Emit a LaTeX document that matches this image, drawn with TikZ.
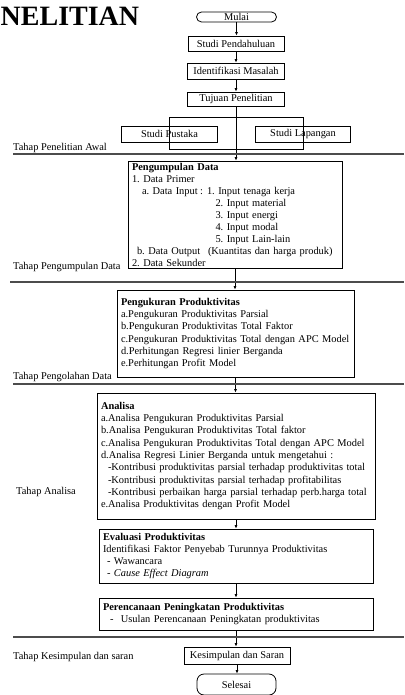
\documentclass[tikz,border=0pt]{standalone}
\usepackage{fontspec}
\setmainfont{Liberation Serif}
\usetikzlibrary{arrows.meta,calc}
\begin{document}
\begin{tikzpicture}[x=1pt,y=-1pt,
  every node/.style={font=\fontsize{10.4}{12.3}\selectfont\frenchspacing},
  box/.style={draw, line width=0.8pt, inner sep=0pt, align=center},
  textbox/.style={draw, line width=0.8pt, inner xsep=4pt, inner ysep=0pt, align=left},
  term/.style={draw, line width=0.8pt, inner sep=0pt},
  arr/.style={-{Latex[length=3.5pt,width=3pt]}, line width=0.7pt},
  sepline/.style={line width=1.1pt, black!70},
  stage/.style={anchor=base west, inner sep=0pt}]
\useasboundingbox (0,0) rectangle (404,695);

% title fragment
\node[anchor=base west, inner sep=0pt, font=\fontsize{28}{28}\selectfont\bfseries] (judul) at (0.5,26) {NELITIAN};

% start / first steps
\node[term, rounded corners=5pt, minimum width=80pt, minimum height=10pt] (mulai) at (236.5,17) {Mulai};
\node[box, minimum width=96pt, minimum height=15pt] (pendahuluan) at (236,43.5) {Studi Pendahuluan};
\node[box, minimum width=97pt, minimum height=16pt] (identifikasi) at (236,71) {Identifikasi Masalah};
\node[box, minimum width=97pt, minimum height=14pt] (tujuan) at (236,99) {Tujuan Penelitian};

\node[box, minimum width=96pt, minimum height=16pt] (pustaka) at (169.5,134) {Studi Pustaka};
\node[box, minimum width=95pt, minimum height=16pt] (lapangan) at (303,134) {Studi Lapangan};
\draw[line width=0.8pt] ($(pustaka.center)+(0,-17)$) rectangle ($(lapangan.center)+(0,15)$);

% data collection
\node[textbox, font=\fontsize{10.4}{12}\selectfont\frenchspacing, text width=206pt, minimum height=107pt] (kumpul) at (235,214.5) {%
\textbf{Pengumpulan Data}\\
1. Data Primer\\
\hspace*{10pt}\makebox[58pt][l]{a. Data Input}\makebox[7pt][l]{:}1. Input tenaga kerja\\
\hspace*{83.5pt}2. Input material\\
\hspace*{83.5pt}3. Input energi\\
\hspace*{83.5pt}4. Input modal\\
\hspace*{83.5pt}5. Input Lain-lain\\
\hspace*{5pt}\makebox[71pt][l]{b. Data Output}(Kuantitas dan harga produk)\\
2. Data Sekunder};

% processing
\node[textbox, text width=229pt, minimum height=87pt] (ukur) at (235.5,333.5) {%
\textbf{Pengukuran Produktivitas}\\
a.Pengukuran Produktivitas Parsial\\
b.Pengukuran Produktivitas Total Faktor\\
\mbox{c.Pengukuran Produktivitas Total dengan APC Model}\\
d.Perhitungan Regresi linier Berganda\\
e.Perhitungan Profit Model};

% analysis
\node[textbox, text width=270pt, minimum height=126pt] (analisa) at (236,456) {%
\textbf{Analisa}\\
a.Analisa Pengukuran Produktivitas Parsial\\
b.Analisa Pengukuran Produktivitas Total faktor\\
\mbox{c.Analisa Pengukuran Produktivitas Total dengan APC Model}\\
d.Analisa Regresi Linier Berganda untuk mengetahui :\\
\hspace*{7pt}\mbox{-Kontribusi produktivitas parsial terhadap produktivitas total}\\
\hspace*{7pt}\mbox{-Kontribusi produktivitas parsial terhadap profitabilitas}\\
\hspace*{7pt}\mbox{-Kontribusi perbaikan harga parsial terhadap perb.harga total}\\
e.Analisa Produktivitas dengan Profit Model};

\node[textbox, text width=266pt, minimum height=54pt] (evaluasi) at (236,556) {%
\textbf{Evaluasi Produktivitas}\\
Identifikasi Faktor Penyebab Turunnya Produktivitas\\
\hspace*{4pt}- Wawancara\\
\hspace*{4pt}- \textit{Cause Effect Diagram}};

\node[textbox, text width=266pt, minimum height=32pt] (rencana) at (236,614) {%
\textbf{Perencanaan Peningkatan Produktivitas}\\
\hspace*{7pt}-\hspace{4pt} Usulan Perencanaan Peningkatan produktivitas};

\node[box, minimum width=106pt, minimum height=17pt] (kesimpulan) at (237,655.5) {Kesimpulan dan Saran};
\node[term, rounded corners=7pt, minimum width=79pt, minimum height=21pt] (selesai) at (236.5,684.5) {Selesai};

% connectors
\draw[arr] (mulai.south) -- (mulai.south |- pendahuluan.north);
\draw[arr] (pendahuluan.south) -- (pendahuluan.south |- identifikasi.north);
\draw[arr] (identifikasi.south) -- (identifikasi.south |- tujuan.north);
\draw[arr] (tujuan.south) -- (tujuan.south |- kumpul.north);
\draw[arr] (kumpul.south) -- (kumpul.south |- ukur.north);
\draw[arr] (ukur.south) -- (ukur.south |- analisa.north);
\draw[arr] (analisa.south) -- (analisa.south |- evaluasi.north);
\draw[arr] (evaluasi.south) -- (evaluasi.south |- rencana.north);
\draw[arr] (rencana.south) -- (rencana.south |- kesimpulan.north);
\draw[arr] (kesimpulan.south) -- (kesimpulan.south |- selesai.north);

% stage separators
\draw[sepline] (13,154) -- (404,154);
\draw[sepline] (10,282) -- (404,282);
\draw[sepline] (13,384) -- (404,384);
\draw[sepline] (13,637) -- (404,637);

% stage labels
\node[stage] (s1) at (13,150.5) {Tahap Penelitian Awal};
\node[stage] (s2) at (13,269.5) {Tahap Pengumpulan Data};
\node[stage] (s3) at (13,379.5) {Tahap Pengolahan Data};
\node[stage] (s4) at (16,494) {Tahap Analisa};
\node[stage] (s5) at (13,659.5) {Tahap Kesimpulan dan saran};
\end{tikzpicture}
\end{document}
